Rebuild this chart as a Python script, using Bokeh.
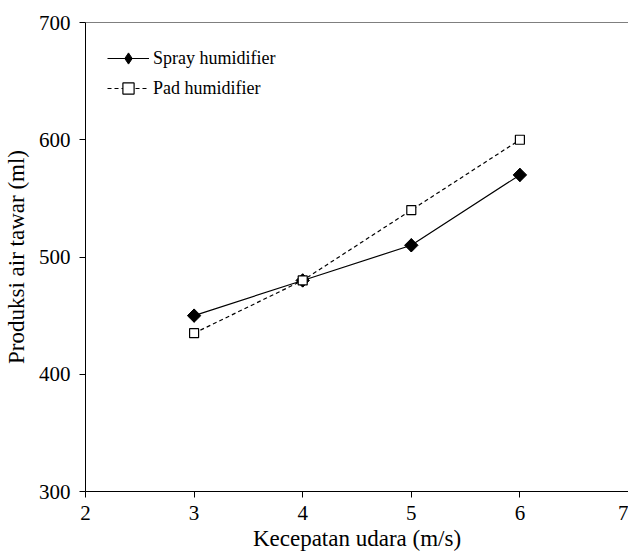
import math
from bokeh.plotting import figure
from bokeh.models import Range1d, Span, Legend, LegendItem, FixedTicker
from bokeh.embed import file_html
from bokeh.resources import INLINE

speed = [3, 4, 5, 6]
spray = [450, 480, 510, 570]
pad = [435, 480, 540, 600]
x_ticks = [2, 3, 4, 5, 6, 7]
y_ticks = [300, 400, 500, 600, 700]

FONT = "Liberation Serif"

p = figure(width=628, height=556, output_backend="svg", toolbar_location=None,
           x_range=Range1d(2, 7), y_range=Range1d(300, 700),
           min_border_left=83, min_border_right=0, min_border_top=22, min_border_bottom=65)
p.outline_line_color = None
p.grid.visible = False
p.background_fill_color = "white"

for ax in (p.xaxis[0], p.yaxis[0]):
    ax.axis_line_color = "black"
    ax.major_tick_line_color = "black"
    ax.minor_tick_line_color = None
    ax.major_tick_in = 0
    ax.major_tick_out = 6
    ax.major_label_text_font = FONT
    ax.major_label_text_font_size = "21px"
    ax.major_label_text_color = "black"
    ax.axis_label_text_font = FONT
    ax.axis_label_text_font_size = "23px"
    ax.axis_label_text_font_style = "normal"
    ax.axis_label_text_color = "black"

p.xaxis[0].ticker = FixedTicker(ticks=x_ticks)
p.yaxis[0].ticker = FixedTicker(ticks=y_ticks)
p.xaxis[0].axis_label = "Kecepatan udara (m/s)"
p.yaxis[0].axis_label = "Produksi air tawar (ml)"
p.xaxis[0].major_label_standoff = 8
p.yaxis[0].major_label_standoff = 9
p.xaxis[0].axis_label_standoff = 3
p.yaxis[0].axis_label_standoff = 7

p.add_layout(Span(location=700, dimension="width", line_color="black", line_width=1))

l1 = p.line(speed, spray, line_color="black", line_width=1.2)
d1 = p.scatter(speed, spray, marker="diamond", size=13, fill_color="black", line_color="black")
m1 = p.scatter(speed, spray, marker="square", size=9.5, angle=math.pi / 4,
               fill_color="black", line_color="black")
l2 = p.line(speed, pad, line_color="black", line_width=1.2, line_dash="4 3")
m2 = p.scatter(speed, pad, marker="square", size=9, fill_color="white", line_color="black", line_width=1.2)

legend = Legend(items=[LegendItem(label="Spray humidifier", renderers=[l1, d1]),
                       LegendItem(label="Pad humidifier", renderers=[l2, m2])],
                location="top_left")
legend.border_line_color = None
legend.background_fill_alpha = 0
legend.label_text_font = FONT
legend.label_text_font_size = "18px"
legend.label_text_color = "black"
legend.glyph_width = 42
legend.glyph_height = 28
legend.label_height = 28
legend.label_standoff = 4
legend.spacing = 2
legend.margin = 22
legend.padding = 10
p.add_layout(legend)

open("out.html", "w").write(file_html(p, INLINE))
